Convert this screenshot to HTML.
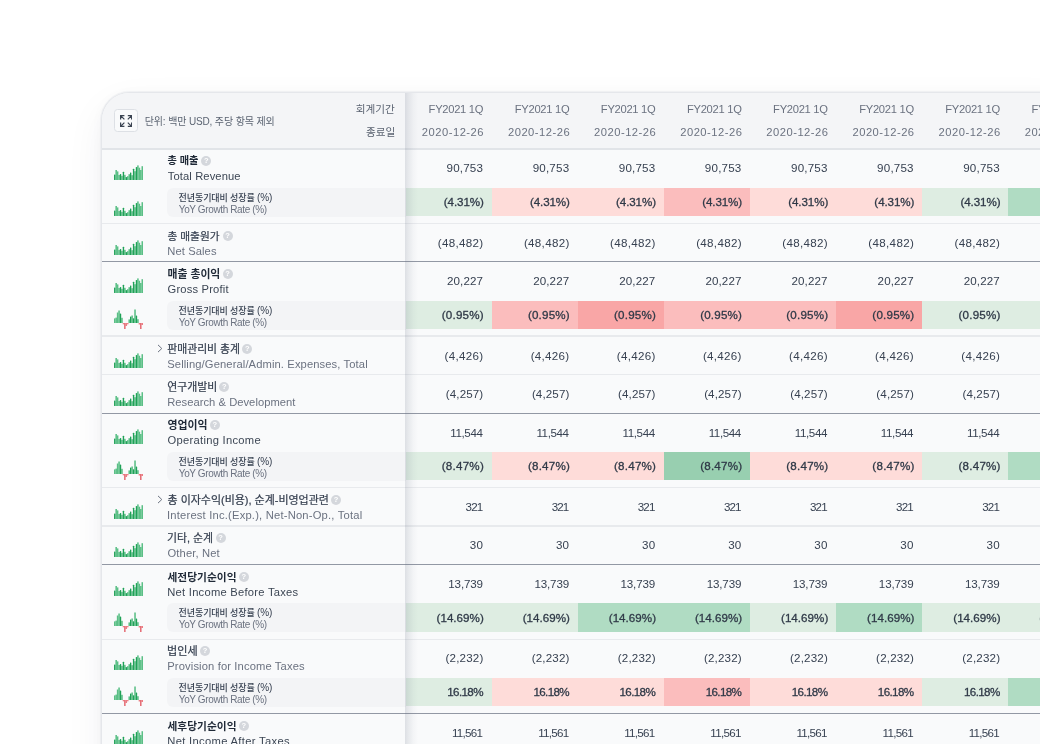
<!DOCTYPE html>
<html lang="ko"><head><meta charset="utf-8"><title>재무제표</title>
<style>
html,body{margin:0;padding:0;background:#fff}
body{width:1040px;height:744px;overflow:hidden;position:relative;font-family:"Liberation Sans", "Noto Sans CJK KR", sans-serif}
.card{position:absolute;left:102px;top:93.4px;width:978px;height:690px;background:#f9fafb;border-top-left-radius:27.5px;overflow:hidden;box-shadow:0 0 0 1px #e5e7eb, 0 0 0 2px rgba(229,231,235,0.45), 0 2px 14px rgba(30,40,60,0.035), 0 14px 40px rgba(30,40,60,0.06)}
.t{position:absolute;white-space:nowrap;line-height:16px;height:16px}
.m{-webkit-text-stroke:0.3px currentColor}
.k{-webkit-text-stroke:0.22px currentColor}
.q{position:absolute;width:10px;height:10px;border-radius:50%;background:#d4d7dc;color:#fff;font-size:7.5px;line-height:10.5px;text-align:center;font-weight:700;font-family:"Liberation Sans",sans-serif}
</style></head><body>
<div class="card">
<div style="position:absolute;left:0px;top:0px;width:978px;height:55.1px;background:#f4f5f7;"></div>
<div style="position:absolute;left:12.3px;top:15.7px;width:21.3px;height:21px;border:1px solid #dde0e5;border-radius:3.5px;background:#f9fafb"></div>
<svg style="position:absolute;left:17.8px;top:21.6px" width="12.2" height="12" viewBox="0 0 12.2 12" fill="none" stroke="#3b4452" stroke-width="1.25" stroke-linecap="butt" stroke-linejoin="miter"><path d="M0.6 4.4V0.6H4.4M0.6 0.6L4.4 4.4M7.8 0.6H11.6V4.4M11.6 0.6L7.8 4.4M0.6 7.6V11.4H4.4M0.6 11.4L4.4 7.6M11.6 7.6V11.4H7.8M11.6 11.4L7.8 7.6"/></svg>
<div class="t" style="top:20.6px;font-size:10px;color:#5b6472;left:42.75px;letter-spacing:-0.14px;">단위: 백만 USD, 주당 항목 제외</div>
<div class="t" style="top:7.6px;font-size:10.63px;color:#5b6472;right:685.14px;">회계기간</div>
<div class="t" style="top:30.3px;font-size:10.63px;color:#5b6472;right:684.62px;">종료일</div>
<div class="t" style="top:7.6px;font-size:11.2px;color:#6b7280;right:596.79px;letter-spacing:-0.29px;">FY2021 1Q</div>
<div class="t" style="top:30.6px;font-size:11.2px;color:#6b7280;right:596.01px;letter-spacing:0.49px;">2020-12-26</div>
<div class="t" style="top:7.6px;font-size:11.2px;color:#6b7280;right:510.67px;letter-spacing:-0.29px;">FY2021 1Q</div>
<div class="t" style="top:30.6px;font-size:11.2px;color:#6b7280;right:509.89px;letter-spacing:0.49px;">2020-12-26</div>
<div class="t" style="top:7.6px;font-size:11.2px;color:#6b7280;right:424.55px;letter-spacing:-0.29px;">FY2021 1Q</div>
<div class="t" style="top:30.6px;font-size:11.2px;color:#6b7280;right:423.77px;letter-spacing:0.49px;">2020-12-26</div>
<div class="t" style="top:7.6px;font-size:11.2px;color:#6b7280;right:338.43px;letter-spacing:-0.29px;">FY2021 1Q</div>
<div class="t" style="top:30.6px;font-size:11.2px;color:#6b7280;right:337.65px;letter-spacing:0.49px;">2020-12-26</div>
<div class="t" style="top:7.6px;font-size:11.2px;color:#6b7280;right:252.31px;letter-spacing:-0.29px;">FY2021 1Q</div>
<div class="t" style="top:30.6px;font-size:11.2px;color:#6b7280;right:251.53px;letter-spacing:0.49px;">2020-12-26</div>
<div class="t" style="top:7.6px;font-size:11.2px;color:#6b7280;right:166.19px;letter-spacing:-0.29px;">FY2021 1Q</div>
<div class="t" style="top:30.6px;font-size:11.2px;color:#6b7280;right:165.41px;letter-spacing:0.49px;">2020-12-26</div>
<div class="t" style="top:7.6px;font-size:11.2px;color:#6b7280;right:80.07px;letter-spacing:-0.29px;">FY2021 1Q</div>
<div class="t" style="top:30.6px;font-size:11.2px;color:#6b7280;right:79.29px;letter-spacing:0.49px;">2020-12-26</div>
<div class="t" style="top:7.6px;font-size:11.2px;color:#6b7280;right:-6.05px;letter-spacing:-0.29px;">FY2021 1Q</div>
<div class="t" style="top:30.6px;font-size:11.2px;color:#6b7280;right:-6.83px;letter-spacing:0.49px;">2020-12-26</div>
<div style="position:absolute;left:0px;top:54.5px;width:978px;height:2px;background:#e1e4e8;"></div>
<svg style="position:absolute;left:12px;top:70.4px" width="29" height="24" viewBox="0 0 29 24"><rect x="1.40" y="6.00" width="1.55" height="10.00" fill="#5bbf86"/><rect x="2.85" y="7.40" width="1.55" height="8.60" fill="#5bbf86"/><rect x="4.30" y="11.00" width="1.55" height="5.00" fill="#5bbf86"/><rect x="7.20" y="11.80" width="1.55" height="4.20" fill="#5bbf86"/><rect x="10.10" y="10.80" width="1.55" height="5.20" fill="#5bbf86"/><rect x="13.00" y="12.20" width="1.55" height="3.80" fill="#5bbf86"/><rect x="14.45" y="10.20" width="1.55" height="5.80" fill="#5bbf86"/><rect x="17.35" y="11.20" width="1.55" height="4.80" fill="#5bbf86"/><rect x="20.25" y="7.20" width="1.55" height="8.80" fill="#5bbf86"/><rect x="23.15" y="1.40" width="1.55" height="14.60" fill="#5bbf86"/><rect x="24.60" y="3.70" width="1.55" height="12.30" fill="#5bbf86"/><rect x="26.05" y="6.00" width="1.55" height="10.00" fill="#5bbf86"/><rect x="27.50" y="2.20" width="1.55" height="13.80" fill="#5bbf86"/><rect x="0.05" y="10.60" width="1.35" height="5.40" rx="0.5" fill="#1fa157"/><rect x="5.85" y="10.00" width="1.35" height="6.00" rx="0.5" fill="#1fa157"/><rect x="8.75" y="7.70" width="1.35" height="8.30" rx="0.5" fill="#1fa157"/><rect x="11.65" y="13.00" width="1.35" height="3.00" rx="0.5" fill="#1fa157"/><rect x="16.00" y="8.50" width="1.35" height="7.50" rx="0.5" fill="#1fa157"/><rect x="18.90" y="4.70" width="1.35" height="11.30" rx="0.5" fill="#1fa157"/><rect x="21.80" y="3.10" width="1.35" height="12.90" rx="0.5" fill="#1fa157"/></svg>
<div class="t" style="top:59.4px;font-size:10.21px;color:#1f2937;left:65.5px;font-weight:700;">총 매출</div>
<div class="q" style="left:99.4px;top:62.6px">?</div>
<div class="t" style="top:74.7px;font-size:11.2px;color:#3c4654;left:65.75px;letter-spacing:0.11px;">Total Revenue</div>
<div class="t" style="top:66.75px;font-size:11.6px;color:#374151;right:596.83px;letter-spacing:0.2px;">90,753</div>
<div class="t" style="top:66.75px;font-size:11.6px;color:#374151;right:510.71px;letter-spacing:0.2px;">90,753</div>
<div class="t" style="top:66.75px;font-size:11.6px;color:#374151;right:424.59px;letter-spacing:0.2px;">90,753</div>
<div class="t" style="top:66.75px;font-size:11.6px;color:#374151;right:338.47px;letter-spacing:0.2px;">90,753</div>
<div class="t" style="top:66.75px;font-size:11.6px;color:#374151;right:252.35px;letter-spacing:0.2px;">90,753</div>
<div class="t" style="top:66.75px;font-size:11.6px;color:#374151;right:166.23px;letter-spacing:0.2px;">90,753</div>
<div class="t" style="top:66.75px;font-size:11.6px;color:#374151;right:80.11px;letter-spacing:0.2px;">90,753</div>
<div class="t" style="top:66.75px;font-size:11.6px;color:#374151;right:-6.01px;letter-spacing:0.2px;">90,753</div>
<div style="position:absolute;left:64.9px;top:94.25px;width:238.7px;height:29px;background:#f3f4f6;border-radius:6px 0 0 6px"></div>
<svg style="position:absolute;left:12px;top:107.1px" width="29" height="24" viewBox="0 0 29 24"><rect x="1.40" y="6.00" width="1.55" height="10.00" fill="#5bbf86"/><rect x="2.85" y="7.40" width="1.55" height="8.60" fill="#5bbf86"/><rect x="4.30" y="11.00" width="1.55" height="5.00" fill="#5bbf86"/><rect x="7.20" y="11.80" width="1.55" height="4.20" fill="#5bbf86"/><rect x="10.10" y="10.80" width="1.55" height="5.20" fill="#5bbf86"/><rect x="13.00" y="12.20" width="1.55" height="3.80" fill="#5bbf86"/><rect x="14.45" y="10.20" width="1.55" height="5.80" fill="#5bbf86"/><rect x="17.35" y="11.20" width="1.55" height="4.80" fill="#5bbf86"/><rect x="20.25" y="7.20" width="1.55" height="8.80" fill="#5bbf86"/><rect x="23.15" y="1.40" width="1.55" height="14.60" fill="#5bbf86"/><rect x="24.60" y="3.70" width="1.55" height="12.30" fill="#5bbf86"/><rect x="26.05" y="6.00" width="1.55" height="10.00" fill="#5bbf86"/><rect x="27.50" y="2.20" width="1.55" height="13.80" fill="#5bbf86"/><rect x="0.05" y="10.60" width="1.35" height="5.40" rx="0.5" fill="#1fa157"/><rect x="5.85" y="10.00" width="1.35" height="6.00" rx="0.5" fill="#1fa157"/><rect x="8.75" y="7.70" width="1.35" height="8.30" rx="0.5" fill="#1fa157"/><rect x="11.65" y="13.00" width="1.35" height="3.00" rx="0.5" fill="#1fa157"/><rect x="16.00" y="8.50" width="1.35" height="7.50" rx="0.5" fill="#1fa157"/><rect x="18.90" y="4.70" width="1.35" height="11.30" rx="0.5" fill="#1fa157"/><rect x="21.80" y="3.10" width="1.35" height="12.90" rx="0.5" fill="#1fa157"/></svg>
<div class="t" style="top:96.35px;font-size:9px;color:#374151;left:76.6px;letter-spacing:-0.1px;font-weight:500;">전년동기대비 성장률 <span style="font-size:10px">(%)</span></div>
<div class="t" style="top:108.15px;font-size:10px;color:#6b7280;left:76.8px;letter-spacing:-0.38px;">YoY Growth Rate (%)</div>
<div style="position:absolute;left:303.6px;top:94.25px;width:86.22px;height:28.45px;background:#deede2;"></div>
<div class="t m" style="top:100.75px;font-size:11.6px;color:#2f3947;right:596.28px;letter-spacing:-0.09px;">(4.31%)</div>
<div style="position:absolute;left:389.72px;top:94.25px;width:86.22px;height:28.45px;background:#fedcd9;"></div>
<div class="t m" style="top:100.75px;font-size:11.6px;color:#2f3947;right:510.16px;letter-spacing:-0.09px;">(4.31%)</div>
<div style="position:absolute;left:475.84px;top:94.25px;width:86.22px;height:28.45px;background:#fedcd9;"></div>
<div class="t m" style="top:100.75px;font-size:11.6px;color:#2f3947;right:424.04px;letter-spacing:-0.09px;">(4.31%)</div>
<div style="position:absolute;left:561.96px;top:94.25px;width:86.22px;height:28.45px;background:#fbbdbd;"></div>
<div class="t m" style="top:100.75px;font-size:11.6px;color:#2f3947;right:337.92px;letter-spacing:-0.09px;">(4.31%)</div>
<div style="position:absolute;left:648.08px;top:94.25px;width:86.22px;height:28.45px;background:#fedcd9;"></div>
<div class="t m" style="top:100.75px;font-size:11.6px;color:#2f3947;right:251.8px;letter-spacing:-0.09px;">(4.31%)</div>
<div style="position:absolute;left:734.2px;top:94.25px;width:86.22px;height:28.45px;background:#fedcd9;"></div>
<div class="t m" style="top:100.75px;font-size:11.6px;color:#2f3947;right:165.68px;letter-spacing:-0.09px;">(4.31%)</div>
<div style="position:absolute;left:820.32px;top:94.25px;width:86.22px;height:28.45px;background:#deede2;"></div>
<div class="t m" style="top:100.75px;font-size:11.6px;color:#2f3947;right:79.56px;letter-spacing:-0.09px;">(4.31%)</div>
<div style="position:absolute;left:906.44px;top:94.25px;width:86.22px;height:28.45px;background:#b0dcc3;"></div>
<div class="t m" style="top:100.75px;font-size:11.6px;color:#2f3947;right:-6.56px;letter-spacing:-0.09px;">(4.31%)</div>
<div style="position:absolute;left:0px;top:129.45px;width:978px;height:1.4px;background:#e8eaed;"></div>
<svg style="position:absolute;left:12px;top:145.2px" width="29" height="24" viewBox="0 0 29 24"><rect x="1.40" y="6.00" width="1.55" height="10.00" fill="#5bbf86"/><rect x="2.85" y="7.40" width="1.55" height="8.60" fill="#5bbf86"/><rect x="4.30" y="11.00" width="1.55" height="5.00" fill="#5bbf86"/><rect x="7.20" y="11.80" width="1.55" height="4.20" fill="#5bbf86"/><rect x="10.10" y="10.80" width="1.55" height="5.20" fill="#5bbf86"/><rect x="13.00" y="12.20" width="1.55" height="3.80" fill="#5bbf86"/><rect x="14.45" y="10.20" width="1.55" height="5.80" fill="#5bbf86"/><rect x="17.35" y="11.20" width="1.55" height="4.80" fill="#5bbf86"/><rect x="20.25" y="7.20" width="1.55" height="8.80" fill="#5bbf86"/><rect x="23.15" y="1.40" width="1.55" height="14.60" fill="#5bbf86"/><rect x="24.60" y="3.70" width="1.55" height="12.30" fill="#5bbf86"/><rect x="26.05" y="6.00" width="1.55" height="10.00" fill="#5bbf86"/><rect x="27.50" y="2.20" width="1.55" height="13.80" fill="#5bbf86"/><rect x="0.05" y="10.60" width="1.35" height="5.40" rx="0.5" fill="#1fa157"/><rect x="5.85" y="10.00" width="1.35" height="6.00" rx="0.5" fill="#1fa157"/><rect x="8.75" y="7.70" width="1.35" height="8.30" rx="0.5" fill="#1fa157"/><rect x="11.65" y="13.00" width="1.35" height="3.00" rx="0.5" fill="#1fa157"/><rect x="16.00" y="8.50" width="1.35" height="7.50" rx="0.5" fill="#1fa157"/><rect x="18.90" y="4.70" width="1.35" height="11.30" rx="0.5" fill="#1fa157"/><rect x="21.80" y="3.10" width="1.35" height="12.90" rx="0.5" fill="#1fa157"/></svg>
<div class="t k" style="top:134.2px;font-size:10.68px;color:#374151;left:65.5px;">총 매출원가</div>
<div class="q" style="left:120.5px;top:137.4px">?</div>
<div class="t" style="top:149.5px;font-size:11.2px;color:#6b7280;left:65.25px;letter-spacing:0.09px;">Net Sales</div>
<div class="t" style="top:141.55px;font-size:11.6px;color:#374151;right:596.5px;letter-spacing:0.32px;">(48,482)</div>
<div class="t" style="top:141.55px;font-size:11.6px;color:#374151;right:510.38px;letter-spacing:0.32px;">(48,482)</div>
<div class="t" style="top:141.55px;font-size:11.6px;color:#374151;right:424.26px;letter-spacing:0.32px;">(48,482)</div>
<div class="t" style="top:141.55px;font-size:11.6px;color:#374151;right:338.14px;letter-spacing:0.32px;">(48,482)</div>
<div class="t" style="top:141.55px;font-size:11.6px;color:#374151;right:252.02px;letter-spacing:0.32px;">(48,482)</div>
<div class="t" style="top:141.55px;font-size:11.6px;color:#374151;right:165.9px;letter-spacing:0.32px;">(48,482)</div>
<div class="t" style="top:141.55px;font-size:11.6px;color:#374151;right:79.78px;letter-spacing:0.32px;">(48,482)</div>
<div class="t" style="top:141.55px;font-size:11.6px;color:#374151;right:-6.34px;letter-spacing:0.32px;">(48,482)</div>
<div style="position:absolute;left:0px;top:167.55px;width:978px;height:1.5px;background:#9298a4;"></div>
<svg style="position:absolute;left:12px;top:183.4px" width="29" height="24" viewBox="0 0 29 24"><rect x="1.40" y="6.00" width="1.55" height="10.00" fill="#5bbf86"/><rect x="2.85" y="7.40" width="1.55" height="8.60" fill="#5bbf86"/><rect x="4.30" y="11.00" width="1.55" height="5.00" fill="#5bbf86"/><rect x="7.20" y="11.80" width="1.55" height="4.20" fill="#5bbf86"/><rect x="10.10" y="10.80" width="1.55" height="5.20" fill="#5bbf86"/><rect x="13.00" y="12.20" width="1.55" height="3.80" fill="#5bbf86"/><rect x="14.45" y="10.20" width="1.55" height="5.80" fill="#5bbf86"/><rect x="17.35" y="11.20" width="1.55" height="4.80" fill="#5bbf86"/><rect x="20.25" y="7.20" width="1.55" height="8.80" fill="#5bbf86"/><rect x="23.15" y="1.40" width="1.55" height="14.60" fill="#5bbf86"/><rect x="24.60" y="3.70" width="1.55" height="12.30" fill="#5bbf86"/><rect x="26.05" y="6.00" width="1.55" height="10.00" fill="#5bbf86"/><rect x="27.50" y="2.20" width="1.55" height="13.80" fill="#5bbf86"/><rect x="0.05" y="10.60" width="1.35" height="5.40" rx="0.5" fill="#1fa157"/><rect x="5.85" y="10.00" width="1.35" height="6.00" rx="0.5" fill="#1fa157"/><rect x="8.75" y="7.70" width="1.35" height="8.30" rx="0.5" fill="#1fa157"/><rect x="11.65" y="13.00" width="1.35" height="3.00" rx="0.5" fill="#1fa157"/><rect x="16.00" y="8.50" width="1.35" height="7.50" rx="0.5" fill="#1fa157"/><rect x="18.90" y="4.70" width="1.35" height="11.30" rx="0.5" fill="#1fa157"/><rect x="21.80" y="3.10" width="1.35" height="12.90" rx="0.5" fill="#1fa157"/></svg>
<div class="t" style="top:172.4px;font-size:10.84px;color:#1f2937;left:65.5px;font-weight:700;">매출 총이익</div>
<div class="q" style="left:120.5px;top:175.6px">?</div>
<div class="t" style="top:187.7px;font-size:11.2px;color:#3c4654;left:65.5px;letter-spacing:0.18px;">Gross Profit</div>
<div class="t" style="top:179.75px;font-size:11.6px;color:#374151;right:596.88px;letter-spacing:0.11px;">20,227</div>
<div class="t" style="top:179.75px;font-size:11.6px;color:#374151;right:510.75px;letter-spacing:0.11px;">20,227</div>
<div class="t" style="top:179.75px;font-size:11.6px;color:#374151;right:424.63px;letter-spacing:0.11px;">20,227</div>
<div class="t" style="top:179.75px;font-size:11.6px;color:#374151;right:338.51px;letter-spacing:0.11px;">20,227</div>
<div class="t" style="top:179.75px;font-size:11.6px;color:#374151;right:252.39px;letter-spacing:0.11px;">20,227</div>
<div class="t" style="top:179.75px;font-size:11.6px;color:#374151;right:166.27px;letter-spacing:0.11px;">20,227</div>
<div class="t" style="top:179.75px;font-size:11.6px;color:#374151;right:80.15px;letter-spacing:0.11px;">20,227</div>
<div class="t" style="top:179.75px;font-size:11.6px;color:#374151;right:-5.97px;letter-spacing:0.11px;">20,227</div>
<div style="position:absolute;left:64.9px;top:207.5px;width:238.7px;height:29px;background:#f3f4f6;border-radius:6px 0 0 6px"></div>
<svg style="position:absolute;left:12px;top:213.9px" width="29" height="24" viewBox="0 0 29 24"><rect x="-0.05" y="11.40" width="1.55" height="4.60" fill="#5bbf86"/><rect x="1.40" y="10.60" width="1.55" height="5.40" fill="#5bbf86"/><rect x="2.85" y="5.50" width="1.55" height="10.50" fill="#5bbf86"/><rect x="4.30" y="3.50" width="1.55" height="12.50" fill="#5bbf86"/><rect x="7.20" y="10.80" width="1.55" height="5.20" fill="#5bbf86"/><rect x="8.70" y="16.00" width="1.45" height="1.30" fill="#ec7c83"/><rect x="11.60" y="16.00" width="1.45" height="3.00" fill="#ec7c83"/><rect x="13.05" y="16.00" width="1.45" height="1.30" fill="#ec7c83"/><rect x="14.45" y="12.40" width="1.55" height="3.60" fill="#5bbf86"/><rect x="17.35" y="8.50" width="1.55" height="7.50" fill="#5bbf86"/><rect x="20.25" y="2.50" width="1.55" height="13.50" fill="#5bbf86"/><rect x="23.15" y="12.20" width="1.55" height="3.80" fill="#5bbf86"/><rect x="24.65" y="16.00" width="1.45" height="1.50" fill="#ec7c83"/><rect x="27.55" y="16.00" width="1.45" height="2.00" fill="#ec7c83"/><rect x="5.85" y="6.50" width="1.35" height="9.50" rx="0.5" fill="#1fa157"/><rect x="10.25" y="16.00" width="1.25" height="6.00" fill="#e04e58"/><rect x="16.00" y="9.50" width="1.35" height="6.50" rx="0.5" fill="#1fa157"/><rect x="18.90" y="11.20" width="1.35" height="4.80" rx="0.5" fill="#1fa157"/><rect x="21.80" y="8.50" width="1.35" height="7.50" rx="0.5" fill="#1fa157"/><rect x="26.20" y="16.00" width="1.25" height="6.00" fill="#e04e58"/></svg>
<div class="t" style="top:209.6px;font-size:9px;color:#374151;left:76.6px;letter-spacing:-0.1px;font-weight:500;">전년동기대비 성장률 <span style="font-size:10px">(%)</span></div>
<div class="t" style="top:221.4px;font-size:10px;color:#6b7280;left:76.8px;letter-spacing:-0.38px;">YoY Growth Rate (%)</div>
<div style="position:absolute;left:303.6px;top:207.5px;width:86.22px;height:28.45px;background:#deede2;"></div>
<div class="t m" style="top:214px;font-size:11.6px;color:#2f3947;right:596.17px;letter-spacing:0.21px;">(0.95%)</div>
<div style="position:absolute;left:389.72px;top:207.5px;width:86.22px;height:28.45px;background:#fbbdbd;"></div>
<div class="t m" style="top:214px;font-size:11.6px;color:#2f3947;right:510.05px;letter-spacing:0.21px;">(0.95%)</div>
<div style="position:absolute;left:475.84px;top:207.5px;width:86.22px;height:28.45px;background:#f9a6a6;"></div>
<div class="t m" style="top:214px;font-size:11.6px;color:#2f3947;right:423.93px;letter-spacing:0.21px;">(0.95%)</div>
<div style="position:absolute;left:561.96px;top:207.5px;width:86.22px;height:28.45px;background:#fbbdbd;"></div>
<div class="t m" style="top:214px;font-size:11.6px;color:#2f3947;right:337.81px;letter-spacing:0.21px;">(0.95%)</div>
<div style="position:absolute;left:648.08px;top:207.5px;width:86.22px;height:28.45px;background:#fbbdbd;"></div>
<div class="t m" style="top:214px;font-size:11.6px;color:#2f3947;right:251.69px;letter-spacing:0.21px;">(0.95%)</div>
<div style="position:absolute;left:734.2px;top:207.5px;width:86.22px;height:28.45px;background:#f9a6a6;"></div>
<div class="t m" style="top:214px;font-size:11.6px;color:#2f3947;right:165.57px;letter-spacing:0.21px;">(0.95%)</div>
<div style="position:absolute;left:820.32px;top:207.5px;width:86.22px;height:28.45px;background:#deede2;"></div>
<div class="t m" style="top:214px;font-size:11.6px;color:#2f3947;right:79.45px;letter-spacing:0.21px;">(0.95%)</div>
<div style="position:absolute;left:906.44px;top:207.5px;width:86.22px;height:28.45px;background:#deede2;"></div>
<div class="t m" style="top:214px;font-size:11.6px;color:#2f3947;right:-6.67px;letter-spacing:0.21px;">(0.95%)</div>
<div style="position:absolute;left:0px;top:242.1px;width:978px;height:1.4px;background:#e8eaed;"></div>
<svg style="position:absolute;left:12px;top:258.2px" width="29" height="24" viewBox="0 0 29 24"><rect x="1.40" y="6.00" width="1.55" height="10.00" fill="#5bbf86"/><rect x="2.85" y="7.40" width="1.55" height="8.60" fill="#5bbf86"/><rect x="4.30" y="11.00" width="1.55" height="5.00" fill="#5bbf86"/><rect x="7.20" y="11.80" width="1.55" height="4.20" fill="#5bbf86"/><rect x="10.10" y="10.80" width="1.55" height="5.20" fill="#5bbf86"/><rect x="13.00" y="12.20" width="1.55" height="3.80" fill="#5bbf86"/><rect x="14.45" y="10.20" width="1.55" height="5.80" fill="#5bbf86"/><rect x="17.35" y="11.20" width="1.55" height="4.80" fill="#5bbf86"/><rect x="20.25" y="7.20" width="1.55" height="8.80" fill="#5bbf86"/><rect x="23.15" y="1.40" width="1.55" height="14.60" fill="#5bbf86"/><rect x="24.60" y="3.70" width="1.55" height="12.30" fill="#5bbf86"/><rect x="26.05" y="6.00" width="1.55" height="10.00" fill="#5bbf86"/><rect x="27.50" y="2.20" width="1.55" height="13.80" fill="#5bbf86"/><rect x="0.05" y="10.60" width="1.35" height="5.40" rx="0.5" fill="#1fa157"/><rect x="5.85" y="10.00" width="1.35" height="6.00" rx="0.5" fill="#1fa157"/><rect x="8.75" y="7.70" width="1.35" height="8.30" rx="0.5" fill="#1fa157"/><rect x="11.65" y="13.00" width="1.35" height="3.00" rx="0.5" fill="#1fa157"/><rect x="16.00" y="8.50" width="1.35" height="7.50" rx="0.5" fill="#1fa157"/><rect x="18.90" y="4.70" width="1.35" height="11.30" rx="0.5" fill="#1fa157"/><rect x="21.80" y="3.10" width="1.35" height="12.90" rx="0.5" fill="#1fa157"/></svg>
<svg style="position:absolute;left:55.4px;top:250.7px" width="6" height="9" viewBox="0 0 6 9" fill="none" stroke="#6b7280" stroke-width="1"><path d="M1 0.9L4.8 4.5L1 8.1"/></svg>
<div class="t k" style="top:247.2px;font-size:10.84px;color:#374151;left:65.25px;">판매관리비 총계</div>
<div class="q" style="left:140.25px;top:250.4px">?</div>
<div class="t" style="top:262.5px;font-size:11.2px;color:#6b7280;left:65.25px;letter-spacing:0.11px;">Selling/General/Admin. Expenses, Total</div>
<div class="t" style="top:254.55px;font-size:11.6px;color:#374151;right:596.59px;letter-spacing:0.31px;">(4,426)</div>
<div class="t" style="top:254.55px;font-size:11.6px;color:#374151;right:510.47px;letter-spacing:0.31px;">(4,426)</div>
<div class="t" style="top:254.55px;font-size:11.6px;color:#374151;right:424.35px;letter-spacing:0.31px;">(4,426)</div>
<div class="t" style="top:254.55px;font-size:11.6px;color:#374151;right:338.23px;letter-spacing:0.31px;">(4,426)</div>
<div class="t" style="top:254.55px;font-size:11.6px;color:#374151;right:252.11px;letter-spacing:0.31px;">(4,426)</div>
<div class="t" style="top:254.55px;font-size:11.6px;color:#374151;right:165.99px;letter-spacing:0.31px;">(4,426)</div>
<div class="t" style="top:254.55px;font-size:11.6px;color:#374151;right:79.87px;letter-spacing:0.31px;">(4,426)</div>
<div class="t" style="top:254.55px;font-size:11.6px;color:#374151;right:-6.25px;letter-spacing:0.31px;">(4,426)</div>
<div style="position:absolute;left:0px;top:280.4px;width:978px;height:1.4px;background:#e8eaed;"></div>
<svg style="position:absolute;left:12px;top:296.3px" width="29" height="24" viewBox="0 0 29 24"><rect x="1.40" y="6.00" width="1.55" height="10.00" fill="#5bbf86"/><rect x="2.85" y="7.40" width="1.55" height="8.60" fill="#5bbf86"/><rect x="4.30" y="11.00" width="1.55" height="5.00" fill="#5bbf86"/><rect x="7.20" y="11.80" width="1.55" height="4.20" fill="#5bbf86"/><rect x="10.10" y="10.80" width="1.55" height="5.20" fill="#5bbf86"/><rect x="13.00" y="12.20" width="1.55" height="3.80" fill="#5bbf86"/><rect x="14.45" y="10.20" width="1.55" height="5.80" fill="#5bbf86"/><rect x="17.35" y="11.20" width="1.55" height="4.80" fill="#5bbf86"/><rect x="20.25" y="7.20" width="1.55" height="8.80" fill="#5bbf86"/><rect x="23.15" y="1.40" width="1.55" height="14.60" fill="#5bbf86"/><rect x="24.60" y="3.70" width="1.55" height="12.30" fill="#5bbf86"/><rect x="26.05" y="6.00" width="1.55" height="10.00" fill="#5bbf86"/><rect x="27.50" y="2.20" width="1.55" height="13.80" fill="#5bbf86"/><rect x="0.05" y="10.60" width="1.35" height="5.40" rx="0.5" fill="#1fa157"/><rect x="5.85" y="10.00" width="1.35" height="6.00" rx="0.5" fill="#1fa157"/><rect x="8.75" y="7.70" width="1.35" height="8.30" rx="0.5" fill="#1fa157"/><rect x="11.65" y="13.00" width="1.35" height="3.00" rx="0.5" fill="#1fa157"/><rect x="16.00" y="8.50" width="1.35" height="7.50" rx="0.5" fill="#1fa157"/><rect x="18.90" y="4.70" width="1.35" height="11.30" rx="0.5" fill="#1fa157"/><rect x="21.80" y="3.10" width="1.35" height="12.90" rx="0.5" fill="#1fa157"/></svg>
<div class="t k" style="top:285.3px;font-size:10.9px;color:#374151;left:65.25px;">연구개발비</div>
<div class="q" style="left:117.25px;top:288.5px">?</div>
<div class="t" style="top:300.6px;font-size:11.2px;color:#6b7280;left:65.25px;letter-spacing:0.03px;">Research &amp; Development</div>
<div class="t" style="top:292.65px;font-size:11.6px;color:#374151;right:596.67px;letter-spacing:0.12px;">(4,257)</div>
<div class="t" style="top:292.65px;font-size:11.6px;color:#374151;right:510.55px;letter-spacing:0.12px;">(4,257)</div>
<div class="t" style="top:292.65px;font-size:11.6px;color:#374151;right:424.43px;letter-spacing:0.12px;">(4,257)</div>
<div class="t" style="top:292.65px;font-size:11.6px;color:#374151;right:338.31px;letter-spacing:0.12px;">(4,257)</div>
<div class="t" style="top:292.65px;font-size:11.6px;color:#374151;right:252.19px;letter-spacing:0.12px;">(4,257)</div>
<div class="t" style="top:292.65px;font-size:11.6px;color:#374151;right:166.07px;letter-spacing:0.12px;">(4,257)</div>
<div class="t" style="top:292.65px;font-size:11.6px;color:#374151;right:79.95px;letter-spacing:0.12px;">(4,257)</div>
<div class="t" style="top:292.65px;font-size:11.6px;color:#374151;right:-6.17px;letter-spacing:0.12px;">(4,257)</div>
<div style="position:absolute;left:0px;top:319.35px;width:978px;height:1.5px;background:#9298a4;"></div>
<svg style="position:absolute;left:12px;top:334.8px" width="29" height="24" viewBox="0 0 29 24"><rect x="1.40" y="6.00" width="1.55" height="10.00" fill="#5bbf86"/><rect x="2.85" y="7.40" width="1.55" height="8.60" fill="#5bbf86"/><rect x="4.30" y="11.00" width="1.55" height="5.00" fill="#5bbf86"/><rect x="7.20" y="11.80" width="1.55" height="4.20" fill="#5bbf86"/><rect x="10.10" y="10.80" width="1.55" height="5.20" fill="#5bbf86"/><rect x="13.00" y="12.20" width="1.55" height="3.80" fill="#5bbf86"/><rect x="14.45" y="10.20" width="1.55" height="5.80" fill="#5bbf86"/><rect x="17.35" y="11.20" width="1.55" height="4.80" fill="#5bbf86"/><rect x="20.25" y="7.20" width="1.55" height="8.80" fill="#5bbf86"/><rect x="23.15" y="1.40" width="1.55" height="14.60" fill="#5bbf86"/><rect x="24.60" y="3.70" width="1.55" height="12.30" fill="#5bbf86"/><rect x="26.05" y="6.00" width="1.55" height="10.00" fill="#5bbf86"/><rect x="27.50" y="2.20" width="1.55" height="13.80" fill="#5bbf86"/><rect x="0.05" y="10.60" width="1.35" height="5.40" rx="0.5" fill="#1fa157"/><rect x="5.85" y="10.00" width="1.35" height="6.00" rx="0.5" fill="#1fa157"/><rect x="8.75" y="7.70" width="1.35" height="8.30" rx="0.5" fill="#1fa157"/><rect x="11.65" y="13.00" width="1.35" height="3.00" rx="0.5" fill="#1fa157"/><rect x="16.00" y="8.50" width="1.35" height="7.50" rx="0.5" fill="#1fa157"/><rect x="18.90" y="4.70" width="1.35" height="11.30" rx="0.5" fill="#1fa157"/><rect x="21.80" y="3.10" width="1.35" height="12.90" rx="0.5" fill="#1fa157"/></svg>
<div class="t" style="top:323.8px;font-size:10.91px;color:#1f2937;left:65.5px;font-weight:700;">영업이익</div>
<div class="q" style="left:107.75px;top:327px">?</div>
<div class="t" style="top:339.1px;font-size:11.2px;color:#3c4654;left:65.5px;letter-spacing:0.28px;">Operating Income</div>
<div class="t" style="top:331.15px;font-size:11.6px;color:#374151;right:597.48px;letter-spacing:-0.39px;">11,544</div>
<div class="t" style="top:331.15px;font-size:11.6px;color:#374151;right:511.36px;letter-spacing:-0.39px;">11,544</div>
<div class="t" style="top:331.15px;font-size:11.6px;color:#374151;right:425.24px;letter-spacing:-0.39px;">11,544</div>
<div class="t" style="top:331.15px;font-size:11.6px;color:#374151;right:339.12px;letter-spacing:-0.39px;">11,544</div>
<div class="t" style="top:331.15px;font-size:11.6px;color:#374151;right:253px;letter-spacing:-0.39px;">11,544</div>
<div class="t" style="top:331.15px;font-size:11.6px;color:#374151;right:166.88px;letter-spacing:-0.39px;">11,544</div>
<div class="t" style="top:331.15px;font-size:11.6px;color:#374151;right:80.76px;letter-spacing:-0.39px;">11,544</div>
<div class="t" style="top:331.15px;font-size:11.6px;color:#374151;right:-5.36px;letter-spacing:-0.39px;">11,544</div>
<div style="position:absolute;left:64.9px;top:358.6px;width:238.7px;height:29px;background:#f3f4f6;border-radius:6px 0 0 6px"></div>
<svg style="position:absolute;left:12px;top:365px" width="29" height="24" viewBox="0 0 29 24"><rect x="-0.05" y="11.40" width="1.55" height="4.60" fill="#5bbf86"/><rect x="1.40" y="10.60" width="1.55" height="5.40" fill="#5bbf86"/><rect x="2.85" y="5.50" width="1.55" height="10.50" fill="#5bbf86"/><rect x="4.30" y="3.50" width="1.55" height="12.50" fill="#5bbf86"/><rect x="7.20" y="10.80" width="1.55" height="5.20" fill="#5bbf86"/><rect x="8.70" y="16.00" width="1.45" height="1.30" fill="#ec7c83"/><rect x="11.60" y="16.00" width="1.45" height="3.00" fill="#ec7c83"/><rect x="13.05" y="16.00" width="1.45" height="1.30" fill="#ec7c83"/><rect x="14.45" y="12.40" width="1.55" height="3.60" fill="#5bbf86"/><rect x="17.35" y="8.50" width="1.55" height="7.50" fill="#5bbf86"/><rect x="20.25" y="2.50" width="1.55" height="13.50" fill="#5bbf86"/><rect x="23.15" y="12.20" width="1.55" height="3.80" fill="#5bbf86"/><rect x="24.65" y="16.00" width="1.45" height="1.50" fill="#ec7c83"/><rect x="27.55" y="16.00" width="1.45" height="2.00" fill="#ec7c83"/><rect x="5.85" y="6.50" width="1.35" height="9.50" rx="0.5" fill="#1fa157"/><rect x="10.25" y="16.00" width="1.25" height="6.00" fill="#e04e58"/><rect x="16.00" y="9.50" width="1.35" height="6.50" rx="0.5" fill="#1fa157"/><rect x="18.90" y="11.20" width="1.35" height="4.80" rx="0.5" fill="#1fa157"/><rect x="21.80" y="8.50" width="1.35" height="7.50" rx="0.5" fill="#1fa157"/><rect x="26.20" y="16.00" width="1.25" height="6.00" fill="#e04e58"/></svg>
<div class="t" style="top:360.7px;font-size:9px;color:#374151;left:76.6px;letter-spacing:-0.1px;font-weight:500;">전년동기대비 성장률 <span style="font-size:10px">(%)</span></div>
<div class="t" style="top:372.5px;font-size:10px;color:#6b7280;left:76.8px;letter-spacing:-0.38px;">YoY Growth Rate (%)</div>
<div style="position:absolute;left:303.6px;top:358.6px;width:86.22px;height:28.45px;background:#deede2;"></div>
<div class="t m" style="top:365.1px;font-size:11.6px;color:#2f3947;right:596.03px;letter-spacing:0.23px;">(8.47%)</div>
<div style="position:absolute;left:389.72px;top:358.6px;width:86.22px;height:28.45px;background:#fedcd9;"></div>
<div class="t m" style="top:365.1px;font-size:11.6px;color:#2f3947;right:509.91px;letter-spacing:0.23px;">(8.47%)</div>
<div style="position:absolute;left:475.84px;top:358.6px;width:86.22px;height:28.45px;background:#fedcd9;"></div>
<div class="t m" style="top:365.1px;font-size:11.6px;color:#2f3947;right:423.79px;letter-spacing:0.23px;">(8.47%)</div>
<div style="position:absolute;left:561.96px;top:358.6px;width:86.22px;height:28.45px;background:#98cfb0;"></div>
<div class="t m" style="top:365.1px;font-size:11.6px;color:#2f3947;right:337.67px;letter-spacing:0.23px;">(8.47%)</div>
<div style="position:absolute;left:648.08px;top:358.6px;width:86.22px;height:28.45px;background:#fedcd9;"></div>
<div class="t m" style="top:365.1px;font-size:11.6px;color:#2f3947;right:251.55px;letter-spacing:0.23px;">(8.47%)</div>
<div style="position:absolute;left:734.2px;top:358.6px;width:86.22px;height:28.45px;background:#fedcd9;"></div>
<div class="t m" style="top:365.1px;font-size:11.6px;color:#2f3947;right:165.43px;letter-spacing:0.23px;">(8.47%)</div>
<div style="position:absolute;left:820.32px;top:358.6px;width:86.22px;height:28.45px;background:#deede2;"></div>
<div class="t m" style="top:365.1px;font-size:11.6px;color:#2f3947;right:79.31px;letter-spacing:0.23px;">(8.47%)</div>
<div style="position:absolute;left:906.44px;top:358.6px;width:86.22px;height:28.45px;background:#b0dcc3;"></div>
<div class="t m" style="top:365.1px;font-size:11.6px;color:#2f3947;right:-6.81px;letter-spacing:0.23px;">(8.47%)</div>
<div style="position:absolute;left:0px;top:393.55px;width:978px;height:1.4px;background:#e8eaed;"></div>
<svg style="position:absolute;left:12px;top:409.4px" width="29" height="24" viewBox="0 0 29 24"><rect x="1.40" y="6.00" width="1.55" height="10.00" fill="#5bbf86"/><rect x="2.85" y="7.40" width="1.55" height="8.60" fill="#5bbf86"/><rect x="4.30" y="11.00" width="1.55" height="5.00" fill="#5bbf86"/><rect x="7.20" y="11.80" width="1.55" height="4.20" fill="#5bbf86"/><rect x="10.10" y="10.80" width="1.55" height="5.20" fill="#5bbf86"/><rect x="13.00" y="12.20" width="1.55" height="3.80" fill="#5bbf86"/><rect x="14.45" y="10.20" width="1.55" height="5.80" fill="#5bbf86"/><rect x="17.35" y="11.20" width="1.55" height="4.80" fill="#5bbf86"/><rect x="20.25" y="7.20" width="1.55" height="8.80" fill="#5bbf86"/><rect x="23.15" y="1.40" width="1.55" height="14.60" fill="#5bbf86"/><rect x="24.60" y="3.70" width="1.55" height="12.30" fill="#5bbf86"/><rect x="26.05" y="6.00" width="1.55" height="10.00" fill="#5bbf86"/><rect x="27.50" y="2.20" width="1.55" height="13.80" fill="#5bbf86"/><rect x="0.05" y="10.60" width="1.35" height="5.40" rx="0.5" fill="#1fa157"/><rect x="5.85" y="10.00" width="1.35" height="6.00" rx="0.5" fill="#1fa157"/><rect x="8.75" y="7.70" width="1.35" height="8.30" rx="0.5" fill="#1fa157"/><rect x="11.65" y="13.00" width="1.35" height="3.00" rx="0.5" fill="#1fa157"/><rect x="16.00" y="8.50" width="1.35" height="7.50" rx="0.5" fill="#1fa157"/><rect x="18.90" y="4.70" width="1.35" height="11.30" rx="0.5" fill="#1fa157"/><rect x="21.80" y="3.10" width="1.35" height="12.90" rx="0.5" fill="#1fa157"/></svg>
<svg style="position:absolute;left:55.4px;top:401.9px" width="6" height="9" viewBox="0 0 6 9" fill="none" stroke="#6b7280" stroke-width="1"><path d="M1 0.9L4.8 4.5L1 8.1"/></svg>
<div class="t k" style="top:398.4px;font-size:10.97px;color:#374151;left:65.5px;">총 이자수익(비용), 순계-비영업관련</div>
<div class="q" style="left:229px;top:401.6px">?</div>
<div class="t" style="top:413.7px;font-size:11.2px;color:#6b7280;left:65px;letter-spacing:0.2px;">Interest Inc.(Exp.), Net-Non-Op., Total</div>
<div class="t" style="top:405.75px;font-size:11.6px;color:#374151;right:597.64px;letter-spacing:-0.83px;">321</div>
<div class="t" style="top:405.75px;font-size:11.6px;color:#374151;right:511.52px;letter-spacing:-0.83px;">321</div>
<div class="t" style="top:405.75px;font-size:11.6px;color:#374151;right:425.4px;letter-spacing:-0.83px;">321</div>
<div class="t" style="top:405.75px;font-size:11.6px;color:#374151;right:339.28px;letter-spacing:-0.83px;">321</div>
<div class="t" style="top:405.75px;font-size:11.6px;color:#374151;right:253.16px;letter-spacing:-0.83px;">321</div>
<div class="t" style="top:405.75px;font-size:11.6px;color:#374151;right:167.04px;letter-spacing:-0.83px;">321</div>
<div class="t" style="top:405.75px;font-size:11.6px;color:#374151;right:80.92px;letter-spacing:-0.83px;">321</div>
<div class="t" style="top:405.75px;font-size:11.6px;color:#374151;right:-5.2px;letter-spacing:-0.83px;">321</div>
<div style="position:absolute;left:0px;top:432.1px;width:978px;height:1.4px;background:#e8eaed;"></div>
<svg style="position:absolute;left:12px;top:447.55px" width="29" height="24" viewBox="0 0 29 24"><rect x="1.40" y="6.00" width="1.55" height="10.00" fill="#5bbf86"/><rect x="2.85" y="7.40" width="1.55" height="8.60" fill="#5bbf86"/><rect x="4.30" y="11.00" width="1.55" height="5.00" fill="#5bbf86"/><rect x="7.20" y="11.80" width="1.55" height="4.20" fill="#5bbf86"/><rect x="10.10" y="10.80" width="1.55" height="5.20" fill="#5bbf86"/><rect x="13.00" y="12.20" width="1.55" height="3.80" fill="#5bbf86"/><rect x="14.45" y="10.20" width="1.55" height="5.80" fill="#5bbf86"/><rect x="17.35" y="11.20" width="1.55" height="4.80" fill="#5bbf86"/><rect x="20.25" y="7.20" width="1.55" height="8.80" fill="#5bbf86"/><rect x="23.15" y="1.40" width="1.55" height="14.60" fill="#5bbf86"/><rect x="24.60" y="3.70" width="1.55" height="12.30" fill="#5bbf86"/><rect x="26.05" y="6.00" width="1.55" height="10.00" fill="#5bbf86"/><rect x="27.50" y="2.20" width="1.55" height="13.80" fill="#5bbf86"/><rect x="0.05" y="10.60" width="1.35" height="5.40" rx="0.5" fill="#1fa157"/><rect x="5.85" y="10.00" width="1.35" height="6.00" rx="0.5" fill="#1fa157"/><rect x="8.75" y="7.70" width="1.35" height="8.30" rx="0.5" fill="#1fa157"/><rect x="11.65" y="13.00" width="1.35" height="3.00" rx="0.5" fill="#1fa157"/><rect x="16.00" y="8.50" width="1.35" height="7.50" rx="0.5" fill="#1fa157"/><rect x="18.90" y="4.70" width="1.35" height="11.30" rx="0.5" fill="#1fa157"/><rect x="21.80" y="3.10" width="1.35" height="12.90" rx="0.5" fill="#1fa157"/></svg>
<div class="t k" style="top:436.55px;font-size:10.9px;color:#374151;left:65px;">기타, 순계</div>
<div class="q" style="left:113.5px;top:439.75px">?</div>
<div class="t" style="top:451.85px;font-size:11.2px;color:#6b7280;left:65.5px;letter-spacing:0.13px;">Other, Net</div>
<div class="t" style="top:443.9px;font-size:11.6px;color:#374151;right:596.95px;letter-spacing:0.2px;">30</div>
<div class="t" style="top:443.9px;font-size:11.6px;color:#374151;right:510.83px;letter-spacing:0.2px;">30</div>
<div class="t" style="top:443.9px;font-size:11.6px;color:#374151;right:424.71px;letter-spacing:0.2px;">30</div>
<div class="t" style="top:443.9px;font-size:11.6px;color:#374151;right:338.59px;letter-spacing:0.2px;">30</div>
<div class="t" style="top:443.9px;font-size:11.6px;color:#374151;right:252.47px;letter-spacing:0.2px;">30</div>
<div class="t" style="top:443.9px;font-size:11.6px;color:#374151;right:166.35px;letter-spacing:0.2px;">30</div>
<div class="t" style="top:443.9px;font-size:11.6px;color:#374151;right:80.23px;letter-spacing:0.2px;">30</div>
<div class="t" style="top:443.9px;font-size:11.6px;color:#374151;right:-5.89px;letter-spacing:0.2px;">30</div>
<div style="position:absolute;left:0px;top:470.25px;width:978px;height:1.5px;background:#9298a4;"></div>
<svg style="position:absolute;left:12px;top:486.3px" width="29" height="24" viewBox="0 0 29 24"><rect x="1.40" y="6.00" width="1.55" height="10.00" fill="#5bbf86"/><rect x="2.85" y="7.40" width="1.55" height="8.60" fill="#5bbf86"/><rect x="4.30" y="11.00" width="1.55" height="5.00" fill="#5bbf86"/><rect x="7.20" y="11.80" width="1.55" height="4.20" fill="#5bbf86"/><rect x="10.10" y="10.80" width="1.55" height="5.20" fill="#5bbf86"/><rect x="13.00" y="12.20" width="1.55" height="3.80" fill="#5bbf86"/><rect x="14.45" y="10.20" width="1.55" height="5.80" fill="#5bbf86"/><rect x="17.35" y="11.20" width="1.55" height="4.80" fill="#5bbf86"/><rect x="20.25" y="7.20" width="1.55" height="8.80" fill="#5bbf86"/><rect x="23.15" y="1.40" width="1.55" height="14.60" fill="#5bbf86"/><rect x="24.60" y="3.70" width="1.55" height="12.30" fill="#5bbf86"/><rect x="26.05" y="6.00" width="1.55" height="10.00" fill="#5bbf86"/><rect x="27.50" y="2.20" width="1.55" height="13.80" fill="#5bbf86"/><rect x="0.05" y="10.60" width="1.35" height="5.40" rx="0.5" fill="#1fa157"/><rect x="5.85" y="10.00" width="1.35" height="6.00" rx="0.5" fill="#1fa157"/><rect x="8.75" y="7.70" width="1.35" height="8.30" rx="0.5" fill="#1fa157"/><rect x="11.65" y="13.00" width="1.35" height="3.00" rx="0.5" fill="#1fa157"/><rect x="16.00" y="8.50" width="1.35" height="7.50" rx="0.5" fill="#1fa157"/><rect x="18.90" y="4.70" width="1.35" height="11.30" rx="0.5" fill="#1fa157"/><rect x="21.80" y="3.10" width="1.35" height="12.90" rx="0.5" fill="#1fa157"/></svg>
<div class="t" style="top:475.3px;font-size:10.72px;color:#1f2937;left:65.5px;font-weight:700;">세전당기순이익</div>
<div class="q" style="left:136.75px;top:478.5px">?</div>
<div class="t" style="top:490.6px;font-size:11.2px;color:#3c4654;left:65.25px;letter-spacing:0.25px;">Net Income Before Taxes</div>
<div class="t" style="top:482.65px;font-size:11.6px;color:#374151;right:597.12px;letter-spacing:-0.14px;">13,739</div>
<div class="t" style="top:482.65px;font-size:11.6px;color:#374151;right:511px;letter-spacing:-0.14px;">13,739</div>
<div class="t" style="top:482.65px;font-size:11.6px;color:#374151;right:424.88px;letter-spacing:-0.14px;">13,739</div>
<div class="t" style="top:482.65px;font-size:11.6px;color:#374151;right:338.76px;letter-spacing:-0.14px;">13,739</div>
<div class="t" style="top:482.65px;font-size:11.6px;color:#374151;right:252.64px;letter-spacing:-0.14px;">13,739</div>
<div class="t" style="top:482.65px;font-size:11.6px;color:#374151;right:166.52px;letter-spacing:-0.14px;">13,739</div>
<div class="t" style="top:482.65px;font-size:11.6px;color:#374151;right:80.4px;letter-spacing:-0.14px;">13,739</div>
<div class="t" style="top:482.65px;font-size:11.6px;color:#374151;right:-5.72px;letter-spacing:-0.14px;">13,739</div>
<div style="position:absolute;left:64.9px;top:509.9px;width:238.7px;height:29px;background:#f3f4f6;border-radius:6px 0 0 6px"></div>
<svg style="position:absolute;left:12px;top:516.3px" width="29" height="24" viewBox="0 0 29 24"><rect x="-0.05" y="11.40" width="1.55" height="4.60" fill="#5bbf86"/><rect x="1.40" y="10.60" width="1.55" height="5.40" fill="#5bbf86"/><rect x="2.85" y="5.50" width="1.55" height="10.50" fill="#5bbf86"/><rect x="4.30" y="3.50" width="1.55" height="12.50" fill="#5bbf86"/><rect x="7.20" y="10.80" width="1.55" height="5.20" fill="#5bbf86"/><rect x="8.70" y="16.00" width="1.45" height="1.30" fill="#ec7c83"/><rect x="11.60" y="16.00" width="1.45" height="3.00" fill="#ec7c83"/><rect x="13.05" y="16.00" width="1.45" height="1.30" fill="#ec7c83"/><rect x="14.45" y="12.40" width="1.55" height="3.60" fill="#5bbf86"/><rect x="17.35" y="8.50" width="1.55" height="7.50" fill="#5bbf86"/><rect x="20.25" y="2.50" width="1.55" height="13.50" fill="#5bbf86"/><rect x="23.15" y="12.20" width="1.55" height="3.80" fill="#5bbf86"/><rect x="24.65" y="16.00" width="1.45" height="1.50" fill="#ec7c83"/><rect x="27.55" y="16.00" width="1.45" height="2.00" fill="#ec7c83"/><rect x="5.85" y="6.50" width="1.35" height="9.50" rx="0.5" fill="#1fa157"/><rect x="10.25" y="16.00" width="1.25" height="6.00" fill="#e04e58"/><rect x="16.00" y="9.50" width="1.35" height="6.50" rx="0.5" fill="#1fa157"/><rect x="18.90" y="11.20" width="1.35" height="4.80" rx="0.5" fill="#1fa157"/><rect x="21.80" y="8.50" width="1.35" height="7.50" rx="0.5" fill="#1fa157"/><rect x="26.20" y="16.00" width="1.25" height="6.00" fill="#e04e58"/></svg>
<div class="t" style="top:512px;font-size:9px;color:#374151;left:76.6px;letter-spacing:-0.1px;font-weight:500;">전년동기대비 성장률 <span style="font-size:10px">(%)</span></div>
<div class="t" style="top:523.8px;font-size:10px;color:#6b7280;left:76.8px;letter-spacing:-0.38px;">YoY Growth Rate (%)</div>
<div style="position:absolute;left:303.6px;top:509.9px;width:86.22px;height:28.45px;background:#deede2;"></div>
<div class="t m" style="top:516.4px;font-size:11.6px;color:#2f3947;right:596.2px;letter-spacing:0.03px;">(14.69%)</div>
<div style="position:absolute;left:389.72px;top:509.9px;width:86.22px;height:28.45px;background:#deede2;"></div>
<div class="t m" style="top:516.4px;font-size:11.6px;color:#2f3947;right:510.08px;letter-spacing:0.03px;">(14.69%)</div>
<div style="position:absolute;left:475.84px;top:509.9px;width:86.22px;height:28.45px;background:#b0dcc3;"></div>
<div class="t m" style="top:516.4px;font-size:11.6px;color:#2f3947;right:423.96px;letter-spacing:0.03px;">(14.69%)</div>
<div style="position:absolute;left:561.96px;top:509.9px;width:86.22px;height:28.45px;background:#b0dcc3;"></div>
<div class="t m" style="top:516.4px;font-size:11.6px;color:#2f3947;right:337.84px;letter-spacing:0.03px;">(14.69%)</div>
<div style="position:absolute;left:648.08px;top:509.9px;width:86.22px;height:28.45px;background:#deede2;"></div>
<div class="t m" style="top:516.4px;font-size:11.6px;color:#2f3947;right:251.72px;letter-spacing:0.03px;">(14.69%)</div>
<div style="position:absolute;left:734.2px;top:509.9px;width:86.22px;height:28.45px;background:#b0dcc3;"></div>
<div class="t m" style="top:516.4px;font-size:11.6px;color:#2f3947;right:165.6px;letter-spacing:0.03px;">(14.69%)</div>
<div style="position:absolute;left:820.32px;top:509.9px;width:86.22px;height:28.45px;background:#deede2;"></div>
<div class="t m" style="top:516.4px;font-size:11.6px;color:#2f3947;right:79.48px;letter-spacing:0.03px;">(14.69%)</div>
<div style="position:absolute;left:906.44px;top:509.9px;width:86.22px;height:28.45px;background:#deede2;"></div>
<div class="t m" style="top:516.4px;font-size:11.6px;color:#2f3947;right:-6.64px;letter-spacing:0.03px;">(14.69%)</div>
<div style="position:absolute;left:0px;top:545.15px;width:978px;height:1.4px;background:#e8eaed;"></div>
<svg style="position:absolute;left:12px;top:560.4px" width="29" height="24" viewBox="0 0 29 24"><rect x="1.40" y="6.00" width="1.55" height="10.00" fill="#5bbf86"/><rect x="2.85" y="7.40" width="1.55" height="8.60" fill="#5bbf86"/><rect x="4.30" y="11.00" width="1.55" height="5.00" fill="#5bbf86"/><rect x="7.20" y="11.80" width="1.55" height="4.20" fill="#5bbf86"/><rect x="10.10" y="10.80" width="1.55" height="5.20" fill="#5bbf86"/><rect x="13.00" y="12.20" width="1.55" height="3.80" fill="#5bbf86"/><rect x="14.45" y="10.20" width="1.55" height="5.80" fill="#5bbf86"/><rect x="17.35" y="11.20" width="1.55" height="4.80" fill="#5bbf86"/><rect x="20.25" y="7.20" width="1.55" height="8.80" fill="#5bbf86"/><rect x="23.15" y="1.40" width="1.55" height="14.60" fill="#5bbf86"/><rect x="24.60" y="3.70" width="1.55" height="12.30" fill="#5bbf86"/><rect x="26.05" y="6.00" width="1.55" height="10.00" fill="#5bbf86"/><rect x="27.50" y="2.20" width="1.55" height="13.80" fill="#5bbf86"/><rect x="0.05" y="10.60" width="1.35" height="5.40" rx="0.5" fill="#1fa157"/><rect x="5.85" y="10.00" width="1.35" height="6.00" rx="0.5" fill="#1fa157"/><rect x="8.75" y="7.70" width="1.35" height="8.30" rx="0.5" fill="#1fa157"/><rect x="11.65" y="13.00" width="1.35" height="3.00" rx="0.5" fill="#1fa157"/><rect x="16.00" y="8.50" width="1.35" height="7.50" rx="0.5" fill="#1fa157"/><rect x="18.90" y="4.70" width="1.35" height="11.30" rx="0.5" fill="#1fa157"/><rect x="21.80" y="3.10" width="1.35" height="12.90" rx="0.5" fill="#1fa157"/></svg>
<div class="t k" style="top:549.4px;font-size:11.12px;color:#374151;left:65px;">법인세</div>
<div class="q" style="left:98px;top:552.6px">?</div>
<div class="t" style="top:564.7px;font-size:11.2px;color:#6b7280;left:65.25px;letter-spacing:0.13px;">Provision for Income Taxes</div>
<div class="t" style="top:556.75px;font-size:11.6px;color:#374151;right:596.5px;letter-spacing:0.18px;">(2,232)</div>
<div class="t" style="top:556.75px;font-size:11.6px;color:#374151;right:510.38px;letter-spacing:0.18px;">(2,232)</div>
<div class="t" style="top:556.75px;font-size:11.6px;color:#374151;right:424.26px;letter-spacing:0.18px;">(2,232)</div>
<div class="t" style="top:556.75px;font-size:11.6px;color:#374151;right:338.14px;letter-spacing:0.18px;">(2,232)</div>
<div class="t" style="top:556.75px;font-size:11.6px;color:#374151;right:252.02px;letter-spacing:0.18px;">(2,232)</div>
<div class="t" style="top:556.75px;font-size:11.6px;color:#374151;right:165.9px;letter-spacing:0.18px;">(2,232)</div>
<div class="t" style="top:556.75px;font-size:11.6px;color:#374151;right:79.78px;letter-spacing:0.18px;">(2,232)</div>
<div class="t" style="top:556.75px;font-size:11.6px;color:#374151;right:-6.34px;letter-spacing:0.18px;">(2,232)</div>
<div style="position:absolute;left:64.9px;top:584.5px;width:238.7px;height:29px;background:#f3f4f6;border-radius:6px 0 0 6px"></div>
<svg style="position:absolute;left:12px;top:590.9px" width="29" height="24" viewBox="0 0 29 24"><rect x="-0.05" y="11.40" width="1.55" height="4.60" fill="#5bbf86"/><rect x="1.40" y="10.60" width="1.55" height="5.40" fill="#5bbf86"/><rect x="2.85" y="5.50" width="1.55" height="10.50" fill="#5bbf86"/><rect x="4.30" y="3.50" width="1.55" height="12.50" fill="#5bbf86"/><rect x="7.20" y="10.80" width="1.55" height="5.20" fill="#5bbf86"/><rect x="8.70" y="16.00" width="1.45" height="1.30" fill="#ec7c83"/><rect x="11.60" y="16.00" width="1.45" height="3.00" fill="#ec7c83"/><rect x="13.05" y="16.00" width="1.45" height="1.30" fill="#ec7c83"/><rect x="14.45" y="12.40" width="1.55" height="3.60" fill="#5bbf86"/><rect x="17.35" y="8.50" width="1.55" height="7.50" fill="#5bbf86"/><rect x="20.25" y="2.50" width="1.55" height="13.50" fill="#5bbf86"/><rect x="23.15" y="12.20" width="1.55" height="3.80" fill="#5bbf86"/><rect x="24.65" y="16.00" width="1.45" height="1.50" fill="#ec7c83"/><rect x="27.55" y="16.00" width="1.45" height="2.00" fill="#ec7c83"/><rect x="5.85" y="6.50" width="1.35" height="9.50" rx="0.5" fill="#1fa157"/><rect x="10.25" y="16.00" width="1.25" height="6.00" fill="#e04e58"/><rect x="16.00" y="9.50" width="1.35" height="6.50" rx="0.5" fill="#1fa157"/><rect x="18.90" y="11.20" width="1.35" height="4.80" rx="0.5" fill="#1fa157"/><rect x="21.80" y="8.50" width="1.35" height="7.50" rx="0.5" fill="#1fa157"/><rect x="26.20" y="16.00" width="1.25" height="6.00" fill="#e04e58"/></svg>
<div class="t" style="top:586.6px;font-size:9px;color:#374151;left:76.6px;letter-spacing:-0.1px;font-weight:500;">전년동기대비 성장률 <span style="font-size:10px">(%)</span></div>
<div class="t" style="top:598.4px;font-size:10px;color:#6b7280;left:76.8px;letter-spacing:-0.38px;">YoY Growth Rate (%)</div>
<div style="position:absolute;left:303.6px;top:584.5px;width:86.22px;height:28.45px;background:#deede2;"></div>
<div class="t m" style="top:591px;font-size:11.6px;color:#2f3947;right:597.14px;letter-spacing:-0.62px;">16.18%</div>
<div style="position:absolute;left:389.72px;top:584.5px;width:86.22px;height:28.45px;background:#fedcd9;"></div>
<div class="t m" style="top:591px;font-size:11.6px;color:#2f3947;right:511.02px;letter-spacing:-0.62px;">16.18%</div>
<div style="position:absolute;left:475.84px;top:584.5px;width:86.22px;height:28.45px;background:#fedcd9;"></div>
<div class="t m" style="top:591px;font-size:11.6px;color:#2f3947;right:424.9px;letter-spacing:-0.62px;">16.18%</div>
<div style="position:absolute;left:561.96px;top:584.5px;width:86.22px;height:28.45px;background:#fbbdbd;"></div>
<div class="t m" style="top:591px;font-size:11.6px;color:#2f3947;right:338.78px;letter-spacing:-0.62px;">16.18%</div>
<div style="position:absolute;left:648.08px;top:584.5px;width:86.22px;height:28.45px;background:#fedcd9;"></div>
<div class="t m" style="top:591px;font-size:11.6px;color:#2f3947;right:252.66px;letter-spacing:-0.62px;">16.18%</div>
<div style="position:absolute;left:734.2px;top:584.5px;width:86.22px;height:28.45px;background:#fedcd9;"></div>
<div class="t m" style="top:591px;font-size:11.6px;color:#2f3947;right:166.54px;letter-spacing:-0.62px;">16.18%</div>
<div style="position:absolute;left:820.32px;top:584.5px;width:86.22px;height:28.45px;background:#deede2;"></div>
<div class="t m" style="top:591px;font-size:11.6px;color:#2f3947;right:80.42px;letter-spacing:-0.62px;">16.18%</div>
<div style="position:absolute;left:906.44px;top:584.5px;width:86.22px;height:28.45px;background:#b0dcc3;"></div>
<div class="t m" style="top:591px;font-size:11.6px;color:#2f3947;right:-5.7px;letter-spacing:-0.62px;">16.18%</div>
<div style="position:absolute;left:0px;top:619.55px;width:978px;height:1.5px;background:#9298a4;"></div>
<svg style="position:absolute;left:12px;top:635.4px" width="29" height="24" viewBox="0 0 29 24"><rect x="1.40" y="6.00" width="1.55" height="10.00" fill="#5bbf86"/><rect x="2.85" y="7.40" width="1.55" height="8.60" fill="#5bbf86"/><rect x="4.30" y="11.00" width="1.55" height="5.00" fill="#5bbf86"/><rect x="7.20" y="11.80" width="1.55" height="4.20" fill="#5bbf86"/><rect x="10.10" y="10.80" width="1.55" height="5.20" fill="#5bbf86"/><rect x="13.00" y="12.20" width="1.55" height="3.80" fill="#5bbf86"/><rect x="14.45" y="10.20" width="1.55" height="5.80" fill="#5bbf86"/><rect x="17.35" y="11.20" width="1.55" height="4.80" fill="#5bbf86"/><rect x="20.25" y="7.20" width="1.55" height="8.80" fill="#5bbf86"/><rect x="23.15" y="1.40" width="1.55" height="14.60" fill="#5bbf86"/><rect x="24.60" y="3.70" width="1.55" height="12.30" fill="#5bbf86"/><rect x="26.05" y="6.00" width="1.55" height="10.00" fill="#5bbf86"/><rect x="27.50" y="2.20" width="1.55" height="13.80" fill="#5bbf86"/><rect x="0.05" y="10.60" width="1.35" height="5.40" rx="0.5" fill="#1fa157"/><rect x="5.85" y="10.00" width="1.35" height="6.00" rx="0.5" fill="#1fa157"/><rect x="8.75" y="7.70" width="1.35" height="8.30" rx="0.5" fill="#1fa157"/><rect x="11.65" y="13.00" width="1.35" height="3.00" rx="0.5" fill="#1fa157"/><rect x="16.00" y="8.50" width="1.35" height="7.50" rx="0.5" fill="#1fa157"/><rect x="18.90" y="4.70" width="1.35" height="11.30" rx="0.5" fill="#1fa157"/><rect x="21.80" y="3.10" width="1.35" height="12.90" rx="0.5" fill="#1fa157"/></svg>
<div class="t" style="top:624.4px;font-size:10.72px;color:#1f2937;left:65.5px;font-weight:700;">세후당기순이익</div>
<div class="q" style="left:136.75px;top:627.6px">?</div>
<div class="t" style="top:639.7px;font-size:11.2px;color:#3c4654;left:65.25px;letter-spacing:0.33px;">Net Income After Taxes</div>
<div class="t" style="top:631.75px;font-size:11.6px;color:#374151;right:597.72px;letter-spacing:-0.72px;">11,561</div>
<div class="t" style="top:631.75px;font-size:11.6px;color:#374151;right:511.6px;letter-spacing:-0.72px;">11,561</div>
<div class="t" style="top:631.75px;font-size:11.6px;color:#374151;right:425.48px;letter-spacing:-0.72px;">11,561</div>
<div class="t" style="top:631.75px;font-size:11.6px;color:#374151;right:339.36px;letter-spacing:-0.72px;">11,561</div>
<div class="t" style="top:631.75px;font-size:11.6px;color:#374151;right:253.24px;letter-spacing:-0.72px;">11,561</div>
<div class="t" style="top:631.75px;font-size:11.6px;color:#374151;right:167.12px;letter-spacing:-0.72px;">11,561</div>
<div class="t" style="top:631.75px;font-size:11.6px;color:#374151;right:81px;letter-spacing:-0.72px;">11,561</div>
<div class="t" style="top:631.75px;font-size:11.6px;color:#374151;right:-5.12px;letter-spacing:-0.72px;">11,561</div>
<div style="position:absolute;left:302.6px;top:0;width:13px;height:690.6px;background:linear-gradient(to right,rgba(100,110,130,0.19),rgba(100,110,130,0.12) 25%,rgba(100,110,130,0.04) 65%,rgba(100,110,130,0))"></div>
</div>
</body></html>
